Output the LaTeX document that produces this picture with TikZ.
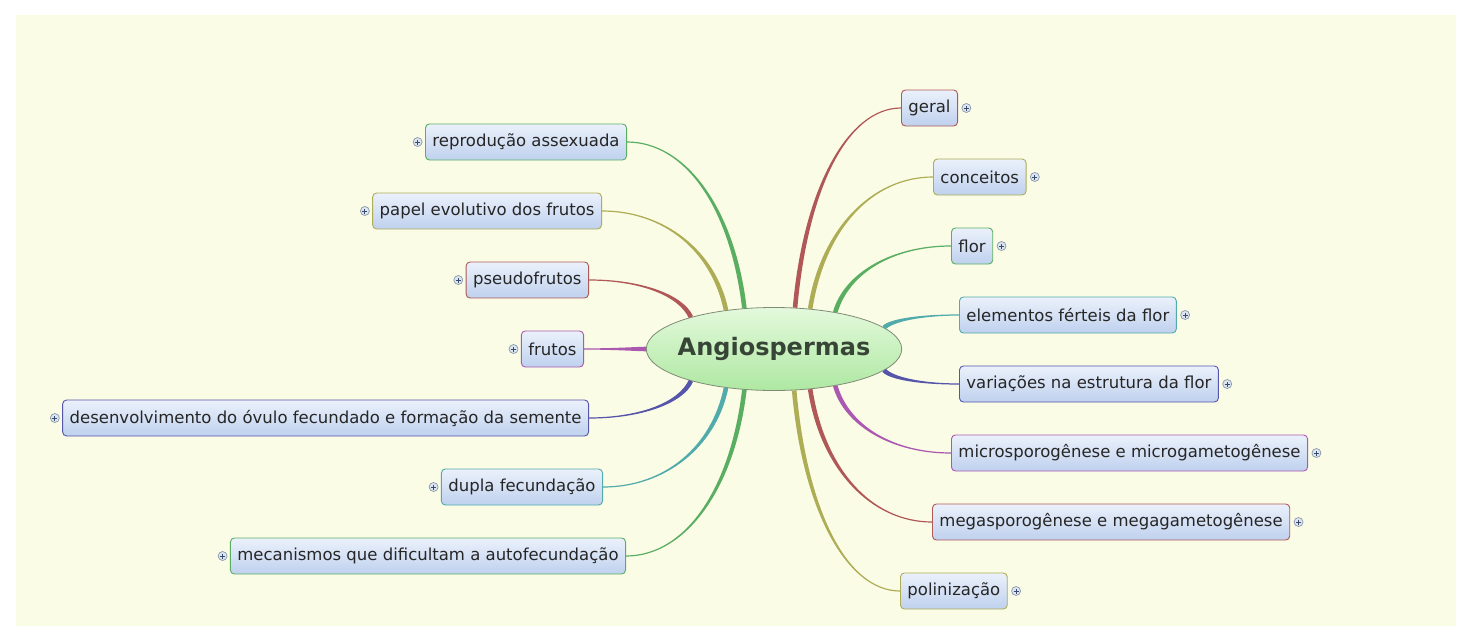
\documentclass[tikz,border=0pt]{standalone}
\usepackage{fontspec}
\setmainfont{DejaVu Sans}
\usetikzlibrary{shapes.geometric, positioning, calc}

\definecolor{paper}{HTML}{FBFCE6}
\definecolor{brRed}{HTML}{B05858}
\definecolor{brOlive}{HTML}{ADAD55}
\definecolor{brGreen}{HTML}{5AAE62}
\definecolor{brTeal}{HTML}{52ABAB}
\definecolor{brIndigo}{HTML}{5555AA}
\definecolor{brPurple}{HTML}{AA58B0}
\definecolor{boxTop}{HTML}{EBF1FB}
\definecolor{boxBottom}{HTML}{BFD1EE}
\definecolor{rootTop}{HTML}{E4F9DC}
\definecolor{rootBottom}{HTML}{AEE8A2}
\definecolor{rootText}{HTML}{374537}
\definecolor{rootRing}{HTML}{7E8C76}
\definecolor{plusRing}{HTML}{8A98A8}
\definecolor{plusFill}{HTML}{DCE6F2}
\definecolor{plusMark}{HTML}{3A4A6A}

% tapered branch: colour, start, end
\newcommand{\branch}[3]{%
  \fill[#1] let \p1=(#2), \p2=(#3),
    \p3=({\x1+0.1*(\x2-\x1)},{\y1+0.6*(\y2-\y1)}),
    \p4=({\x1+0.5*(\x2-\x1)},\y2) in
    ($(\p1)!2.3pt!90:(\p3)$) .. controls ($(\p3)!2.3pt!-90:(\p1)$) and ($(\p4)!0.6pt!90:(\p2)$) .. ($(\p2)!0.6pt!-90:(\p4)$)
    -- ($(\p2)!0.6pt!90:(\p4)$) .. controls ($(\p4)!0.6pt!-90:(\p2)$) and ($(\p3)!2.3pt!90:(\p1)$) .. ($(\p1)!2.3pt!-90:(\p3)$) -- cycle;
}

\tikzset{
  topic/.style={draw=#1, line width=0.9pt, rounded corners=4pt, top color=boxTop, bottom color=boxBottom,
    minimum height=36pt, inner xsep=7pt, text=black!85, font=\fontsize{16.5}{18}\selectfont},
  expander/.style={circle, draw=plusRing, line width=0.7pt, fill=plusFill, minimum size=9pt, inner sep=0pt,
    path picture={\draw[plusMark, line width=0.8pt]
      ($(path picture bounding box.center)+(-2.5pt,0)$) -- ++(5pt,0)
      ($(path picture bounding box.center)+(0,-2.5pt)$) -- ++(0,5pt);}},
  central/.style={ellipse, draw=rootRing, line width=0.8pt, top color=rootTop, bottom color=rootBottom,
    minimum width=252pt, minimum height=83pt, inner xsep=-6pt, inner ysep=0pt,
    text=rootText, font=\fontsize{24}{28}\selectfont\bfseries}
}

\begin{document}
\begin{tikzpicture}[x=1pt, y=-1pt]
    \useasboundingbox (0,0) rectangle (1471,626);
    \fill[paper] (16,15) rectangle (1456,626);

    % Central topic
    \node[central] (root) at (774,349) {Angiospermas};

    % Right-hand topics
    \foreach \name/\xw/\y/\col/\ang/\txt in {
        geral/901/108/brRed/63/geral,
        conceitos/933/177/brOlive/48/conceitos,
        flor/951/246/brGreen/31/flor,
        ferteis/959/315/brTeal/11/elementos férteis da flor,
        variacoes/959/384/brIndigo/-11/variações na estrutura da flor,
        micro/951/453/brPurple/-31/microsporogênese e microgametogênese,
        mega/932/522/brRed/-48/megasporogênese e megagametogênese,
        polinizacao/900/591/brOlive/-64/polinização} {
        \node[topic=\col, anchor=west] (\name) at (\xw,\y) {\txt};
        \node[expander, right=3.5pt of \name] (\name-plus) {};
        \branch{\col}{root.\ang}{\name.west}
    }

    % Left-hand topics
    \foreach \name/\xe/\y/\col/\ang/\txt in {
        assexuada/627/142/brGreen/126/reprodução assexuada,
        papel/602/211/brOlive/141/papel evolutivo dos frutos,
        pseudo/589/280/brRed/159/pseudofrutos,
        frutos/584/349/brPurple/180/frutos,
        semente/589/418/brIndigo/201/desenvolvimento do óvulo fecundado e formação da semente,
        dupla/603/487/brTeal/219/dupla fecundação,
        auto/626/556/brGreen/234/mecanismos que dificultam a autofecundação} {
        \node[topic=\col, anchor=east] (\name) at (\xe,\y) {\txt};
        \node[expander, left=2.5pt of \name] (\name-plus) {};
        \branch{\col}{root.\ang}{\name.east}
    }
\end{tikzpicture}
\end{document}
